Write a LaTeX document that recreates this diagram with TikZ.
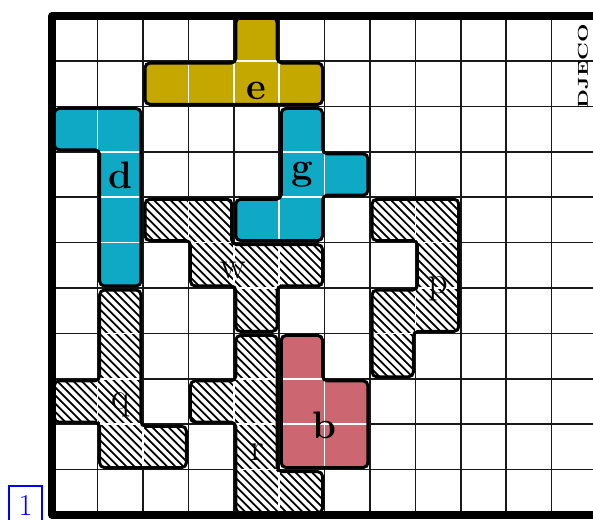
\documentclass[tikz,border=0pt]{standalone}
\definecolor{egold}{HTML}{C4A800}
\definecolor{pcyan}{HTML}{0FA8C5}
\definecolor{bpink}{HTML}{CC6670}
\newcommand\drawpiece[2]{%
  \path[rounded corners=3pt,#1] #2;
  \begin{scope}
    \clip[rounded corners=3pt] #2;
    \draw[innerline] (0,0) grid (12,11);
  \end{scope}
  \draw[outline] #2;
}
\newcommand\hatchpiece[1]{%
  \path[rounded corners=3pt,fill=white] #1;
  \begin{scope}
    \clip[rounded corners=3pt] #1;
    \foreach \i in {-11.0,-10.82,...,12.0} {\draw[hatchline] (\i,11) -- ++(11,-11);}
    \draw[innerline] (0,0) grid (12,11);
  \end{scope}
  \draw[outline] #1;
}
\begin{document}
\begin{tikzpicture}[x=1cm,y=1cm,
  gridline/.style={draw=black!90, line width=0.9pt},
  innerline/.style={draw=white, line width=1pt},
  hatchline/.style={draw=black, line width=1.1pt},
  outline/.style={draw=black, line width=1.9pt, rounded corners=3pt},
  lab/.style={anchor=base, inner sep=0pt, font=\fontsize{24}{28}\selectfont},
  blab/.style={anchor=base, inner sep=0pt, font=\fontsize{24}{28}\selectfont\bfseries},
]
\useasboundingbox (-1.150,-0.088) rectangle (11.912,11.344);
\fill[white] (-1.150,-0.088) rectangle (11.912,11.344);
\draw[gridline] (0,0) grid (12.5,11);
% e
\drawpiece{fill=egold}{(4.045,10.955) -- (4.955,10.955) -- (4.955,9.955) -- (5.955,9.955) -- (5.955,9.045) -- (2.045,9.045) -- (2.045,9.955) -- (4.045,9.955) -- cycle}
% d
\drawpiece{fill=pcyan}{(0.045,8.955) -- (1.955,8.955) -- (1.955,5.045) -- (1.045,5.045) -- (1.045,8.045) -- (0.045,8.045) -- cycle}
% g
\drawpiece{fill=pcyan}{(5.045,8.955) -- (5.955,8.955) -- (5.955,7.955) -- (6.955,7.955) -- (6.955,7.045) -- (5.955,7.045) -- (5.955,6.045) -- (4.045,6.045) -- (4.045,6.955) -- (5.045,6.955) -- cycle}
% w
\hatchpiece{(2.045,6.955) -- (3.955,6.955) -- (3.955,5.955) -- (5.955,5.955) -- (5.955,5.045) -- (4.955,5.045) -- (4.955,4.045) -- (4.045,4.045) -- (4.045,5.045) -- (3.045,5.045) -- (3.045,6.045) -- (2.045,6.045) -- cycle}
% p
\hatchpiece{(7.045,6.955) -- (8.955,6.955) -- (8.955,4.045) -- (7.955,4.045) -- (7.955,3.045) -- (7.045,3.045) -- (7.045,4.955) -- (8.045,4.955) -- (8.045,6.045) -- (7.045,6.045) -- cycle}
% q
\hatchpiece{(1.045,4.955) -- (1.955,4.955) -- (1.955,1.955) -- (2.955,1.955) -- (2.955,1.045) -- (1.045,1.045) -- (1.045,2.045) -- (0.045,2.045) -- (0.045,2.955) -- (1.045,2.955) -- cycle}
% r
\hatchpiece{(4.045,3.955) -- (4.955,3.955) -- (4.955,0.955) -- (5.955,0.955) -- (5.955,0.045) -- (4.045,0.045) -- (4.045,2.045) -- (3.045,2.045) -- (3.045,2.955) -- (4.045,2.955) -- cycle}
% b
\drawpiece{fill=bpink}{(5.045,3.955) -- (5.955,3.955) -- (5.955,2.955) -- (6.955,2.955) -- (6.955,1.045) -- (5.045,1.045) -- cycle}
% frame
\draw[line width=5pt, line join=round] (12.5,11) -- (0,11) -- (0,0) -- (12.5,0);
% labels
\node[blab] (le) at (4.5,9.16) {e};
\node[blab] (ld) at (1.5,7.20) {d};
\node[blab] (lg) at (5.5,7.40) {g};
\node[lab] (lw) at (3.99,5.21) {w};
\node[lab] (lp) at (8.5,4.89) {p};
\node[lab] (lq) at (1.51,2.33) {q};
\node[lab] (lr) at (4.51,1.21) {r};
\node[blab] (lb) at (6.0,1.69) {b};
\node[rotate=90, inner sep=0pt] (logo) at (11.69,9.88) {\scalebox{1.45}[1]{\fontsize{9}{10}\selectfont\bfseries DJECO}};
\node[draw=blue, text=blue, line width=0.9pt, inner xsep=6pt, inner ysep=5.5pt, anchor=base, font=\fontsize{19}{22}\selectfont] (pagenum) at (-0.588,0) {1};
\end{tikzpicture}
\end{document}
